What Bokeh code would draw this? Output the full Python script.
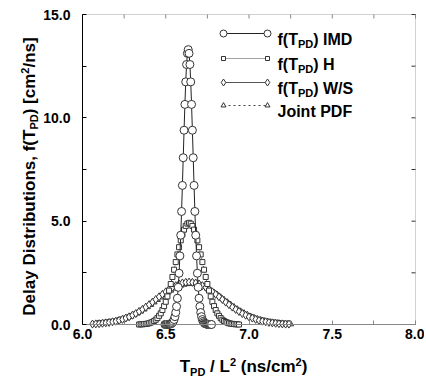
from math import pi
from bokeh.plotting import figure
from bokeh.models import Range1d, Label, FixedTicker, PrintfTickFormatter, BoxAnnotation
from bokeh.embed import file_html
from bokeh.resources import INLINE

# ---------------- data ----------------
X_TICKS = [6.0, 6.5, 7.0, 7.5, 8.0]
X_MINOR = [6.25, 6.75, 7.25, 7.75]
Y_TICKS = [0.0, 5.0, 10.0, 15.0]
Y_MINOR = [2.5, 7.5, 12.5]

imd_x = [6.495, 6.500, 6.505, 6.510, 6.515, 6.520, 6.525, 6.530, 6.535, 6.540,
         6.545, 6.550, 6.555, 6.560, 6.565, 6.570, 6.575, 6.580, 6.585, 6.590,
         6.595, 6.600, 6.605, 6.610, 6.615, 6.620, 6.625, 6.630, 6.635, 6.640,
         6.645, 6.650, 6.655, 6.660, 6.665, 6.670, 6.675, 6.680, 6.685, 6.690,
         6.695, 6.700, 6.705, 6.710, 6.715, 6.720, 6.725, 6.730, 6.735, 6.740,
         6.745, 6.750, 6.755, 6.760, 6.765, 6.770, 6.775]
imd_y = [0.00, 0.00, 0.00, 0.00, 0.01, 0.01, 0.02, 0.03, 0.05, 0.09,
         0.15, 0.24, 0.38, 0.58, 0.87, 1.27, 1.80, 2.48, 3.32, 4.32,
         5.47, 6.73, 8.07, 9.40, 10.65, 11.74, 12.58, 13.12, 13.30, 13.12,
         12.58, 11.74, 10.65, 9.40, 8.07, 6.73, 5.47, 4.32, 3.32, 2.48,
         1.80, 1.27, 0.87, 0.58, 0.38, 0.24, 0.15, 0.09, 0.05, 0.03,
         0.02, 0.01, 0.01, 0.00, 0.00, 0.00, 0.00]

h_x = [6.34, 6.35, 6.36, 6.37, 6.38, 6.39, 6.40, 6.41, 6.42, 6.43,
       6.44, 6.45, 6.46, 6.47, 6.48, 6.49, 6.50, 6.51, 6.52, 6.53,
       6.54, 6.55, 6.56, 6.57, 6.58, 6.59, 6.60, 6.61, 6.62, 6.63,
       6.64, 6.65, 6.66, 6.67, 6.68, 6.69, 6.70, 6.71, 6.72, 6.73,
       6.74, 6.75, 6.76, 6.77, 6.78, 6.79, 6.80, 6.81, 6.82, 6.83,
       6.84, 6.85, 6.86, 6.87, 6.88, 6.89, 6.90, 6.91, 6.92, 6.93,
       6.94]
h_y = [0.00, 0.01, 0.01, 0.02, 0.03, 0.04, 0.06, 0.09, 0.12, 0.17,
       0.23, 0.31, 0.42, 0.54, 0.70, 0.89, 1.10, 1.36, 1.64, 1.96,
       2.30, 2.65, 3.02, 3.39, 3.74, 4.07, 4.36, 4.59, 4.77, 4.88,
       4.92, 4.88, 4.77, 4.59, 4.36, 4.07, 3.74, 3.39, 3.02, 2.65,
       2.30, 1.96, 1.64, 1.36, 1.10, 0.89, 0.70, 0.54, 0.42, 0.31,
       0.23, 0.17, 0.12, 0.09, 0.06, 0.04, 0.03, 0.02, 0.01, 0.01,
       0.00]

ws_x = [6.06, 6.08, 6.10, 6.12, 6.14, 6.16, 6.18, 6.20, 6.22, 6.24,
        6.26, 6.28, 6.30, 6.32, 6.34, 6.36, 6.38, 6.40, 6.42, 6.44,
        6.46, 6.48, 6.50, 6.52, 6.54, 6.56, 6.58, 6.60, 6.62, 6.64,
        6.66, 6.68, 6.70, 6.72, 6.74, 6.76, 6.78, 6.80, 6.82, 6.84,
        6.86, 6.88, 6.90, 6.92, 6.94, 6.96, 6.98, 7.00, 7.02, 7.04,
        7.06, 7.08, 7.10, 7.12, 7.14, 7.16, 7.18, 7.20, 7.22, 7.24]
ws_y = [0.02, 0.03, 0.04, 0.06, 0.08, 0.10, 0.13, 0.16, 0.20, 0.25,
        0.31, 0.37, 0.45, 0.53, 0.63, 0.73, 0.84, 0.96, 1.08, 1.21,
        1.34, 1.46, 1.58, 1.70, 1.80, 1.88, 1.96, 2.01, 2.04, 2.05,
        2.04, 2.01, 1.96, 1.88, 1.80, 1.70, 1.58, 1.46, 1.34, 1.21,
        1.08, 0.96, 0.84, 0.73, 0.63, 0.53, 0.45, 0.37, 0.31, 0.25,
        0.20, 0.16, 0.13, 0.10, 0.08, 0.06, 0.04, 0.03, 0.02, 0.02]

joint_x = [6.09, 6.11, 6.13, 6.15, 6.17, 6.19, 6.21, 6.23, 6.25, 6.27,
           6.29, 6.31, 6.33, 6.35, 6.37, 6.39, 6.41, 6.43, 6.45, 6.47,
           6.49, 6.51, 6.53, 6.55, 6.57, 6.59, 6.61, 6.63, 6.65, 6.67,
           6.69, 6.71, 6.73, 6.75, 6.77, 6.79, 6.81, 6.83, 6.85, 6.87,
           6.89, 6.91, 6.93, 6.95, 6.97, 6.99, 7.01, 7.03, 7.05, 7.07,
           7.09, 7.11, 7.13, 7.15, 7.17, 7.19, 7.21, 7.23, 7.25]
joint_y = [0.04, 0.05, 0.07, 0.09, 0.11, 0.14, 0.18, 0.22, 0.27, 0.33,
           0.39, 0.47, 0.55, 0.64, 0.74, 0.85, 0.96, 1.08, 1.20, 1.32,
           1.44, 1.55, 1.65, 1.75, 1.83, 1.89, 1.94, 1.97, 1.98, 1.97,
           1.94, 1.89, 1.83, 1.75, 1.65, 1.55, 1.44, 1.32, 1.20, 1.08,
           0.96, 0.85, 0.74, 0.64, 0.55, 0.47, 0.39, 0.33, 0.27, 0.22,
           0.18, 0.14, 0.11, 0.09, 0.07, 0.05, 0.04, 0.03, 0.02]

series_names = ["IMD", "H", "W/S", "Joint PDF"]

# ---------------- layout ----------------
W, H = 424, 378
X0, X1, Y0, Y1 = 6.0, 8.0, 0.0, 15.0
AX_L, AX_R, AX_T, AX_B = 82, 415, 14, 324        # pixel box of the data area
PX = (X1 - X0) / (AX_R - AX_L)                    # data units per pixel (x)
PY = (Y1 - Y0) / (AX_B - AX_T)                    # data units per pixel (y)
XS = X0 - AX_L * PX
XE = X0 + (W - AX_L) * PX
YE = Y1 + AX_T * PY
YS = Y0 - (H - AX_B) * PY
FONT = "Liberation Sans"

def fx(px):
    return XS + px * PX

def fy(py):
    return YE - py * PY

p = figure(width=W, height=H, x_range=Range1d(XS, XE), y_range=Range1d(YS, YE),
           output_backend="svg", toolbar_location=None,
           min_border_left=0, min_border_right=0, min_border_top=0, min_border_bottom=0)
p.outline_line_color = None
p.xgrid.visible = False
p.ygrid.visible = False
p.background_fill_color = "white"
p.border_fill_color = "white"

def style_axis(ax, ticks, minor, line_color, loc, bounds):
    ax.fixed_location = loc
    ax.bounds = bounds
    ax.ticker = FixedTicker(ticks=ticks, minor_ticks=minor)
    ax.formatter = PrintfTickFormatter(format="%.1f")
    ax.axis_line_color = line_color
    ax.axis_line_width = 1
    ax.major_tick_in = 4
    ax.major_tick_out = 0
    ax.minor_tick_in = 4
    ax.minor_tick_out = 0
    ax.major_tick_line_color = line_color
    ax.minor_tick_line_color = line_color
    ax.major_label_text_font = FONT
    ax.major_label_text_font_style = "bold"
    ax.major_label_text_font_size = "14px"
    ax.major_label_text_color = "black"

style_axis(p.xaxis[0], X_TICKS, X_MINOR, "#888888", Y0, (X0, X1))
p.xaxis[0].major_label_standoff = 4
style_axis(p.yaxis[0], Y_TICKS, Y_MINOR, "black", X0, (Y0, Y1))
p.yaxis[0].major_label_standoff = 12

# top / right frame lines with inward ticks
p.add_layout(BoxAnnotation(left=X0, right=X1, bottom=Y0, top=Y1, fill_color=None,
                           fill_alpha=0, line_color="#666666", line_width=1, level="underlay"))
top_ticks = X_TICKS + X_MINOR
p.segment(x0=top_ticks, y0=[Y1] * len(top_ticks), x1=top_ticks,
          y1=[Y1 - 4 * PY] * len(top_ticks), line_color="#888888", line_width=1)
right_ticks = Y_TICKS + Y_MINOR
p.segment(x0=[X1] * len(right_ticks), y0=right_ticks, x1=[X1 - 4 * PX] * len(right_ticks),
          y1=right_ticks, line_color="#333333", line_width=1)

# ---------------- series ----------------
styles = {
    "IMD": dict(marker="circle", size=8, dash="solid", lc="#222222"),
    "H": dict(marker="square", size=5, dash="1 1", lc="#444444"),
    "W/S": dict(marker="diamond", size=8, dash="solid", lc="#555555"),
    "Joint PDF": dict(marker="triangle", size=6, dash="2 3", lc="#444444"),
}

def draw(xs, ys, name):
    st = styles[name]
    p.line(xs, ys, line_color=st["lc"], line_width=1, line_dash=st["dash"])
    p.scatter(xs, ys, marker=st["marker"], size=st["size"], line_color="#333333",
              fill_color="white", line_width=1)

draw(joint_x, joint_y, "Joint PDF")
draw(ws_x, ws_y, "W/S")
draw(h_x, h_y, "H")
draw(imd_x, imd_y, "IMD")

# ---------------- rich text helpers ----------------
CW = {' ': 278, '(': 333, ')': 333, ',': 278, '.': 278, '/': 278, '[': 333, ']': 333,
      'D': 722, 'I': 278, 'J': 556, 'L': 611, 'M': 833, 'P': 667, 'S': 667, 'F': 611,
      'T': 611, 'W': 944, 'H': 722, 'a': 556, 'b': 611, 'c': 556, 'e': 556, 'f': 333,
      'i': 278, 'l': 278, 'm': 889, 'n': 611, 'o': 611, 'r': 389, 's': 556, 't': 333,
      'u': 611, 'y': 556}

def tw(s, size):
    return sum(CW.get(c, 556) for c in s) * size / 1000.0

def lab(x, y, text, size, angle=0.0):
    p.add_layout(Label(x=x, y=y, text=text, text_font=FONT, text_font_style="bold",
                       text_font_size=f"{size}px", text_color="black",
                       text_align="left", text_baseline="alphabetic", angle=angle))

def rich_h(parts, x_start_px, base_px):
    x = x_start_px
    for text, size, shift in parts:
        lead = len(text) - len(text.lstrip(" "))
        x += tw(" " * lead, size)
        body = text.strip(" ")
        lab(fx(x), fy(base_px - shift), body, size)
        x += tw(text.lstrip(" "), size)

def rich_h_centered(parts, cx_px, base_px):
    total = sum(tw(t, s) for t, s, _ in parts)
    rich_h(parts, cx_px - total / 2, base_px)

def rich_v_centered(parts, base_px, cy_px):
    total = sum(tw(t, s) for t, s, _ in parts)
    y = cy_px + total / 2
    for text, size, shift in parts:
        lead = len(text) - len(text.lstrip(" "))
        y -= tw(" " * lead, size)
        lab(fx(base_px - shift), fy(y), text.strip(" "), size, angle=pi / 2)
        y -= tw(text.lstrip(" "), size)

# axis titles
rich_h_centered([("T", 17, 0), ("PD", 11, -5), (" / L", 17, 0), ("2", 11, 5),
                 (" (ns/cm", 17, 0), ("2", 11, 5), (")", 17, 0)], 243, 366)
rich_v_centered([("Delay Distributions, f(T", 17, 0), ("PD", 11, -4), (") [cm", 17, 0),
                 ("2", 11, 5), ("/ns]", 17, 0)], 29, 176)

# ---------------- legend ----------------
LEG_X0, LEG_X1, LEG_TX = 223, 267, 277
LEG_ROWS = [33, 58, 82, 105]
for name, ry in zip(series_names, LEG_ROWS):
    st = styles[name]
    p.line([fx(LEG_X0), fx(LEG_X1)], [fy(ry), fy(ry)], line_color=st["lc"], line_width=1,
           line_dash=st["dash"])
    p.scatter([fx(LEG_X0), fx(LEG_X1)], [fy(ry), fy(ry)], marker=st["marker"],
              size=st["size"] - 1, line_color="#333333", fill_color="white", line_width=1)
    base = ry + 6
    if name == "Joint PDF":
        rich_h([("Joint PDF", 16, 0)], LEG_TX, base)
    else:
        rich_h([("f(T", 16, 0), ("PD", 11, -4), (") " + name, 16, 0)], LEG_TX, base)

open("out.html", "w").write(file_html(p, INLINE))
